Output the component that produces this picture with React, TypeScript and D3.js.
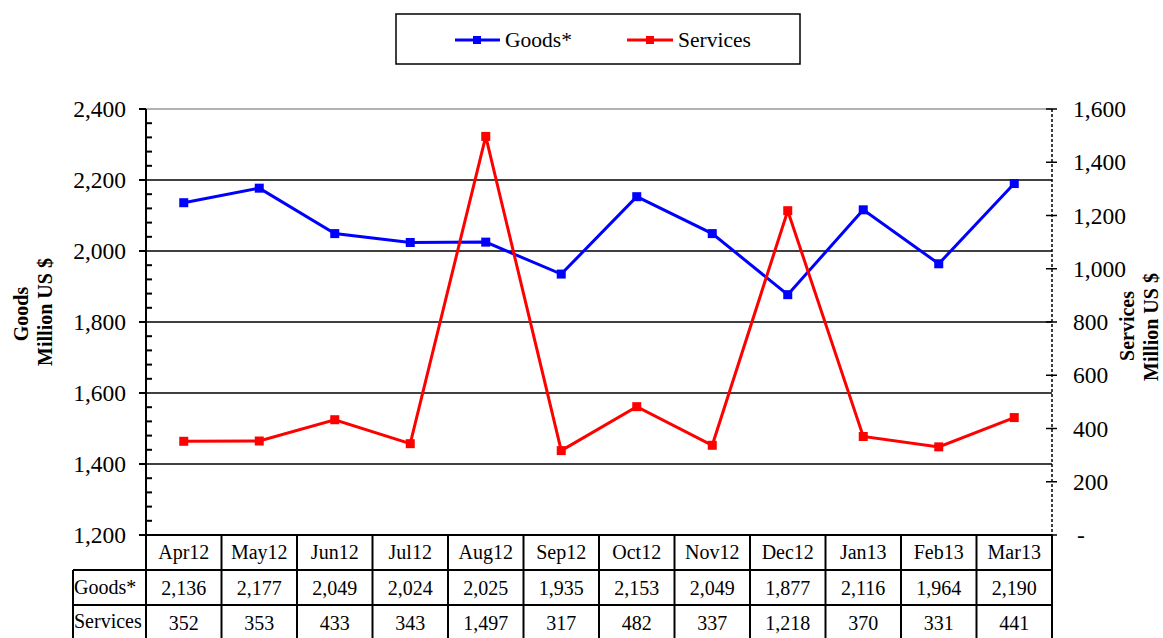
import React from 'react';
import * as d3 from 'd3';

const months = ['Apr12', 'May12', 'Jun12', 'Jul12', 'Aug12', 'Sep12', 'Oct12', 'Nov12', 'Dec12', 'Jan13', 'Feb13', 'Mar13'];
const goods = [2136, 2177, 2049, 2024, 2025, 1935, 2153, 2049, 1877, 2116, 1964, 2190];
const services = [352, 353, 433, 343, 1497, 317, 482, 337, 1218, 370, 331, 441];
const leftTicks = [1200, 1400, 1600, 1800, 2000, 2200, 2400];
const rightTicks = [0, 200, 400, 600, 800, 1000, 1200, 1400, 1600];

const FONT = '"Liberation Serif", "Times New Roman", serif';
const W = 1163;
const H = 638;
const left = 146;
const right = 1052;
const top = 109;
const bottom = 535;
const rowH = 35;

function App() {
  const x = d3.scaleBand<string>().domain(months).range([left, right]);
  const yL = d3.scaleLinear().domain([1200, 2400]).range([bottom, top]);
  const yR = d3.scaleLinear().domain([0, 1600]).range([bottom, top]);
  const fmt = d3.format(',');
  const cx = (m: string) => (x(m) as number) + x.bandwidth() / 2;

  const goodsLine = d3.line<number>().x((_, i) => cx(months[i])).y((d) => yL(d));
  const servLine = d3.line<number>().x((_, i) => cx(months[i])).y((d) => yR(d));

  const minor = d3.range(1200, 2400, 40).filter((v) => v % 200 !== 0);

  return (
    <svg width={W} height={H} style={{ position: 'absolute', left: 0, top: 0 }} fontFamily={FONT}>
      {/* legend */}
      <rect x={396} y={14} width={404} height={50} fill="white" stroke="black" strokeWidth={1.5} />
      <line x1={455} x2={500} y1={40} y2={40} stroke="#0000ff" strokeWidth={3} />
      <rect x={473} y={36} width={8} height={8} fill="#0000ff" />
      <text x={505} y={47} fontSize={21.5}>Goods*</text>
      <line x1={627} x2={673} y1={40} y2={40} stroke="#ff0000" strokeWidth={3} />
      <rect x={646} y={36} width={8} height={8} fill="#ff0000" />
      <text x={678} y={47} fontSize={21.5}>Services</text>

      {/* plot top border and grid */}
      <line x1={left} x2={right} y1={top} y2={top} stroke="#999" strokeWidth={1.5} />
      {leftTicks.filter((t) => t > 1200 && t < 2400).map((t) => (
        <line key={t} x1={left} x2={right} y1={yL(t)} y2={yL(t)} stroke="black" strokeWidth={1.5} />
      ))}

      {/* left axis */}
      <line x1={left} x2={left} y1={top} y2={bottom} stroke="black" strokeWidth={2} />
      {leftTicks.map((t) => (
        <g key={t}>
          <line x1={left - 7} x2={left} y1={yL(t)} y2={yL(t)} stroke="black" strokeWidth={2} />
          <text x={126} y={yL(t) + 8} fontSize={23.5} textAnchor="end">{fmt(t)}</text>
        </g>
      ))}
      {minor.map((t) => (
        <line key={t} x1={left} x2={left + 6} y1={yL(t)} y2={yL(t)} stroke="black" strokeWidth={2} />
      ))}

      {/* right axis */}
      <line x1={right} x2={right} y1={top} y2={bottom} stroke="black" strokeWidth={1.5} strokeDasharray="3,2" />
      {rightTicks.map((t) => (
        <g key={t}>
          <line x1={right - 6} x2={right + 5} y1={yR(t)} y2={yR(t)} stroke="black" strokeWidth={1.5} />
          <text x={t === 0 ? 1077 : 1073} y={yR(t) + 8} fontSize={23.5}>{t === 0 ? '-' : fmt(t)}</text>
        </g>
      ))}

      {/* axis titles */}
      <text transform={`translate(28,314) rotate(-90)`} fontSize={20} fontWeight="bold" textAnchor="middle">Goods</text>
      <text transform={`translate(52,312) rotate(-90)`} fontSize={20} fontWeight="bold" textAnchor="middle">Million US $</text>
      <text transform={`translate(1134,326) rotate(-90)`} fontSize={20} fontWeight="bold" textAnchor="middle">Services</text>
      <text transform={`translate(1158,327) rotate(-90)`} fontSize={20} fontWeight="bold" textAnchor="middle">Million US $</text>

      {/* series */}
      <path d={goodsLine(goods) || ''} fill="none" stroke="#0000ff" strokeWidth={3} />
      {goods.map((v, i) => (
        <rect key={i} x={cx(months[i]) - 4.5} y={yL(v) - 4.5} width={9} height={9} fill="#0000ff" />
      ))}
      <path d={servLine(services) || ''} fill="none" stroke="#ff0000" strokeWidth={3} />
      {services.map((v, i) => (
        <rect key={i} x={cx(months[i]) - 4.5} y={yR(v) - 4.5} width={9} height={9} fill="#ff0000" />
      ))}

      {/* data table */}
      <g stroke="black" strokeWidth={2}>
        <line x1={left} x2={right} y1={bottom} y2={bottom} />
        <line x1={73} x2={right} y1={bottom + rowH} y2={bottom + rowH} />
        <line x1={73} x2={right} y1={bottom + 2 * rowH} y2={bottom + 2 * rowH} />
        <line x1={73} x2={73} y1={bottom + rowH} y2={H} />
        {months.map((m) => (
          <line key={m} x1={x(m) as number} x2={x(m) as number} y1={bottom} y2={H} />
        ))}
        <line x1={right} x2={right} y1={bottom} y2={H} />
      </g>
      {months.map((m, i) => (
        <g key={m} fontSize={20} textAnchor="middle">
          <text x={cx(m)} y={bottom + 24}>{m}</text>
          <text x={cx(m)} y={bottom + rowH + 25}>{fmt(goods[i])}</text>
          <text x={cx(m)} y={bottom + 2 * rowH + 25}>{fmt(services[i])}</text>
        </g>
      ))}
      <text x={74} y={bottom + rowH + 24} fontSize={20}>Goods*</text>
      <text x={74} y={bottom + 2 * rowH + 23} fontSize={20}>Services</text>
    </svg>
  );
}

export default App;
